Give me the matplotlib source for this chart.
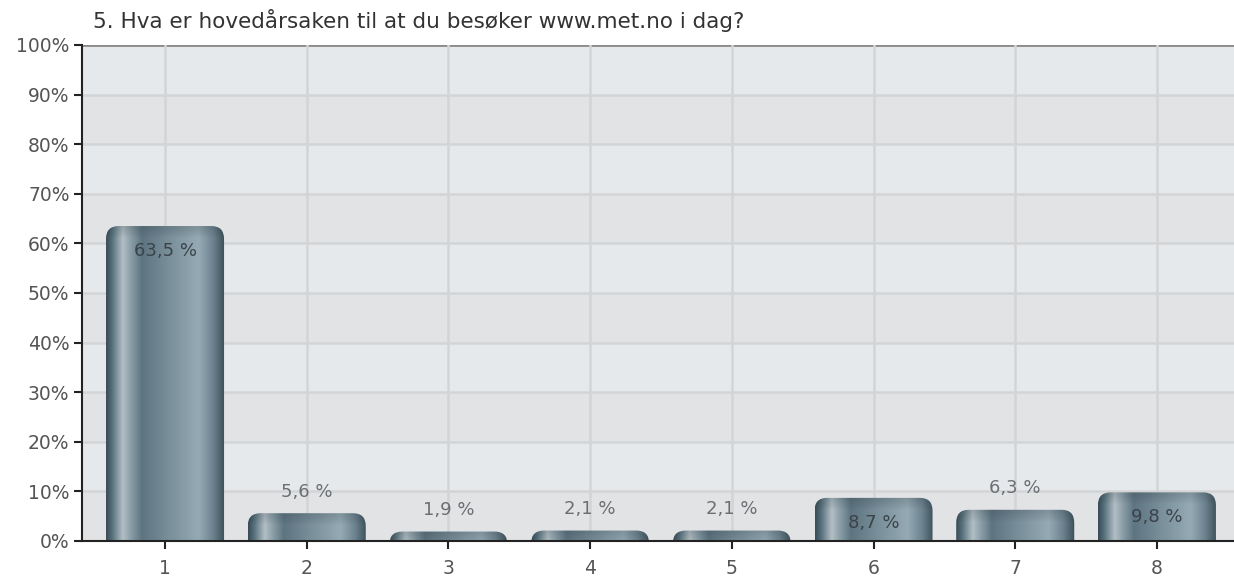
import numpy as np
import matplotlib
matplotlib.use("Agg")
import matplotlib.pyplot as plt
from matplotlib.patches import FancyBboxPatch
from matplotlib.colors import LinearSegmentedColormap

categories = ["1", "2", "3", "4", "5", "6", "7", "8"]
values = [63.5, 5.6, 1.9, 2.1, 2.1, 8.7, 6.3, 9.8]
labels = ["63,5 %", "5,6 %", "1,9 %", "2,1 %", "2,1 %", "8,7 %", "6,3 %", "9,8 %"]
yticks = list(range(0, 101, 10))
title = "5. Hva er hovedårsaken til at du besøker www.met.no i dag?"

plt.rcParams['font.family'] = ['DejaVu Sans']

W, H = 1234, 577
fig = plt.figure(figsize=(W / 100, H / 100), dpi=100)
ax = fig.add_axes([82 / W, 36 / H, (W - 82) / W, 496 / H])

x = np.arange(1, len(categories) + 1)
ax.set_xlim(0.414, 8.544)
ax.set_ylim(0, 100)

# alternating bands
for i, y0 in enumerate(yticks[:-1]):
    col = '#e2e3e5' if i % 2 == 0 else '#e6e9ec'
    ax.axhspan(y0, y0 + 10, color=col, zorder=0, lw=0)
for y in yticks[1:-1]:
    ax.axhline(y, color='#d3d4d6', lw=1.8, zorder=1)
ax.axhline(100, color='#8a8a8a', lw=2, zorder=1)
for xi in x:
    ax.axvline(xi, color='#d3d4d6', lw=1.8, zorder=1)

cmap = LinearSegmentedColormap.from_list('bar', [
    (0.00, '#3a4c56'), (0.05, '#56707c'), (0.14, '#b3bfc5'), (0.21, '#8a9ea8'),
    (0.30, '#5e7581'), (0.55, '#7b919c'), (0.78, '#95aab4'), (0.90, '#6d8490'),
    (1.00, '#3c4f59')])
shade = LinearSegmentedColormap.from_list('shade', [(0, 0, 0, 0), (0.12, 0.16, 0.2, 0.18)])

bw = 0.833
bars = ax.bar(x, values, width=bw, color='none', zorder=2)
grad = np.linspace(0, 1, 256).reshape(1, -1)
vgrad = np.linspace(0, 1, 64).reshape(-1, 1)
rx = 0.09
ry = 2.6
for rect, v, lab in zip(bars, values, labels):
    x0 = rect.get_x()
    w = rect.get_width()
    h = rect.get_height()
    bottom = -4
    patch = FancyBboxPatch((x0 + rx, bottom + ry), w - 2 * rx, h - bottom - 2 * ry,
                           boxstyle=f"round,pad={rx},rounding_size={rx}",
                           mutation_aspect=ry / rx, facecolor='none', edgecolor='none',
                           zorder=3)
    ax.add_patch(patch)
    im = ax.imshow(grad, cmap=cmap, aspect='auto', extent=[x0, x0 + w, bottom, h],
                   zorder=3, interpolation='bilinear')
    im.set_clip_path(patch)
    im2 = ax.imshow(vgrad, cmap=shade, aspect='auto', origin='lower',
                    extent=[x0, x0 + w, h - 2.4, h], zorder=3.5, interpolation='bilinear')
    im2.set_clip_path(patch)
    if h > 8:
        ax.text(x0 + w / 2, h - 5, lab, ha='center', va='center',
                fontsize=13, color='#3a434a', zorder=5)
    else:
        ax.text(x0 + w / 2, h + 4.3, lab, ha='center', va='center',
                fontsize=13, color='#6b6e72', zorder=5)

ax.set_xticks(x)
ax.set_xticklabels(categories)
ax.set_yticks(yticks)
ax.set_yticklabels([f"{t}%" for t in yticks])
ax.tick_params(axis='both', colors='#222222', labelcolor='#555555', labelsize=13.5,
               length=6, width=1.5)
ax.tick_params(axis='x', pad=7)
ax.tick_params(axis='y', pad=3)
for s in ['top', 'right']:
    ax.spines[s].set_visible(False)
for s in ['left', 'bottom']:
    ax.spines[s].set_color('#222222')
    ax.spines[s].set_linewidth(1.5)
    ax.spines[s].set_zorder(6)

fig.text(93 / W, 1 - 20 / H, title, ha='left', va='center', fontsize=15.5, color='#333333')

fig.savefig('out.png', dpi=100)
